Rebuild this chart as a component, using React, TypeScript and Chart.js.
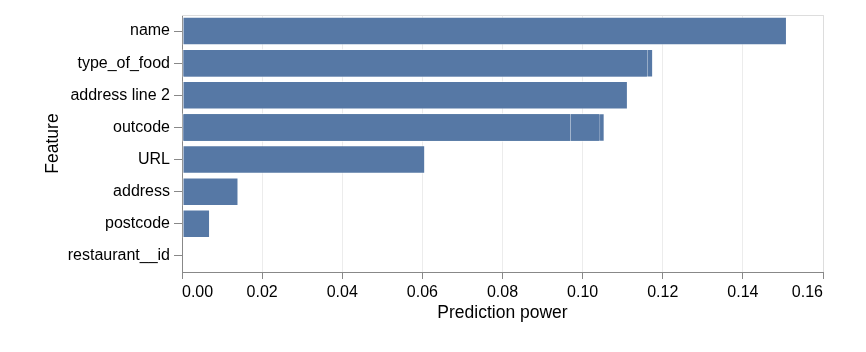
import React, { useEffect, useRef } from "react";
import { Chart, registerables } from "chart.js";

Chart.register(...registerables);

const features = [
  "name",
  "type_of_food",
  "address line 2",
  "outcode",
  "URL",
  "address",
  "postcode",
  "restaurant__id",
];
// Overlapping bar runs (several records per feature)
const powerRunA = [0.151, 0.1176, 0.1113, 0.1055, 0.0607, 0.0141, 0.007, 0];
const powerRunB = [null, 0.1163, null, 0.1044, null, null, null, null];
const powerRunC = [null, null, null, 0.0971, null, null, null, null];
const xTickMin = 0;
const xTickMax = 0.16;
const xTickStep = 0.02;

const FONT = "'Liberation Sans', Arial, Helvetica, sans-serif";
const BAR_FILL = "rgb(86,120,165)";
const BAR_STROKE = "rgba(255,255,255,0.45)";

const framePlugin = {
  id: "frame",
  afterDraw(chart: any) {
    const { ctx, chartArea } = chart;
    ctx.save();
    ctx.strokeStyle = "#dddddd";
    ctx.lineWidth = 1;
    ctx.beginPath();
    ctx.moveTo(chartArea.left, chartArea.top + 0.5);
    ctx.lineTo(chartArea.right + 0.5, chartArea.top + 0.5);
    ctx.lineTo(chartArea.right + 0.5, chartArea.bottom);
    ctx.stroke();
    ctx.restore();
  },
};

export default function App() {
  const ref = useRef<HTMLCanvasElement | null>(null);

  useEffect(() => {
    if (!ref.current) return;
    const mk = (data: (number | null)[]) => ({
      data,
      backgroundColor: BAR_FILL,
      borderColor: BAR_STROKE,
      borderWidth: 1,
      borderSkipped: false as any,
      categoryPercentage: 1,
      barPercentage: 0.89,
      grouped: false,
    });
    const chart = new Chart(ref.current, {
      type: "bar",
      data: {
        labels: features,
        datasets: [mk(powerRunC), mk(powerRunB), mk(powerRunA)],
      },
      plugins: [framePlugin],
      options: {
        indexAxis: "y",
        animation: false,
        responsive: false,
        devicePixelRatio: 1,
        layout: { padding: { top: 15, right: 43, left: 0, bottom: 0 } },
        plugins: { legend: { display: false }, tooltip: { enabled: false } },
        scales: {
          x: {
            type: "linear",
            min: xTickMin,
            max: xTickMax,
            afterFit: (s: any) => {
              s.height = 80;
            },
            ticks: {
              stepSize: xTickStep,
              align: "inner",
              color: "#000",
              padding: 4,
              font: { family: FONT, size: 16 },
              callback: (v: any) => Number(v).toFixed(2),
            },
            grid: {
              color: "#ececec",
              tickColor: "#888",
              tickLength: 7,
              drawTicks: true,
            },
            border: { display: true, color: "#888" },
            title: {
              display: true,
              text: "Prediction power",
              color: "#000",
              font: { family: FONT, size: 17.5 },
              padding: { top: 0, bottom: 28 },
            },
          },
          y: {
            type: "category",
            afterFit: (s: any) => {
              s.width = 182;
            },
            ticks: {
              color: "#000",
              padding: 4,
              font: { family: FONT, size: 16 },
            },
            grid: {
              offset: false,
              drawOnChartArea: false,
              drawTicks: true,
              tickLength: 8,
              tickColor: "#888",
              color: "#888",
            },
            border: { display: true, color: "#888" },
            title: {
              display: true,
              text: "Feature",
              color: "#000",
              font: { family: FONT, size: 17.5 },
              padding: { top: 43, bottom: 0 },
            },
          },
        },
      },
    });
    return () => chart.destroy();
  }, []);

  return (
    <div style={{ position: "fixed", left: 0, top: 0, width: 866, height: 352, background: "#fff" }}>
      <canvas ref={ref} width={866} height={352} style={{ display: "block" }} />
    </div>
  );
}
